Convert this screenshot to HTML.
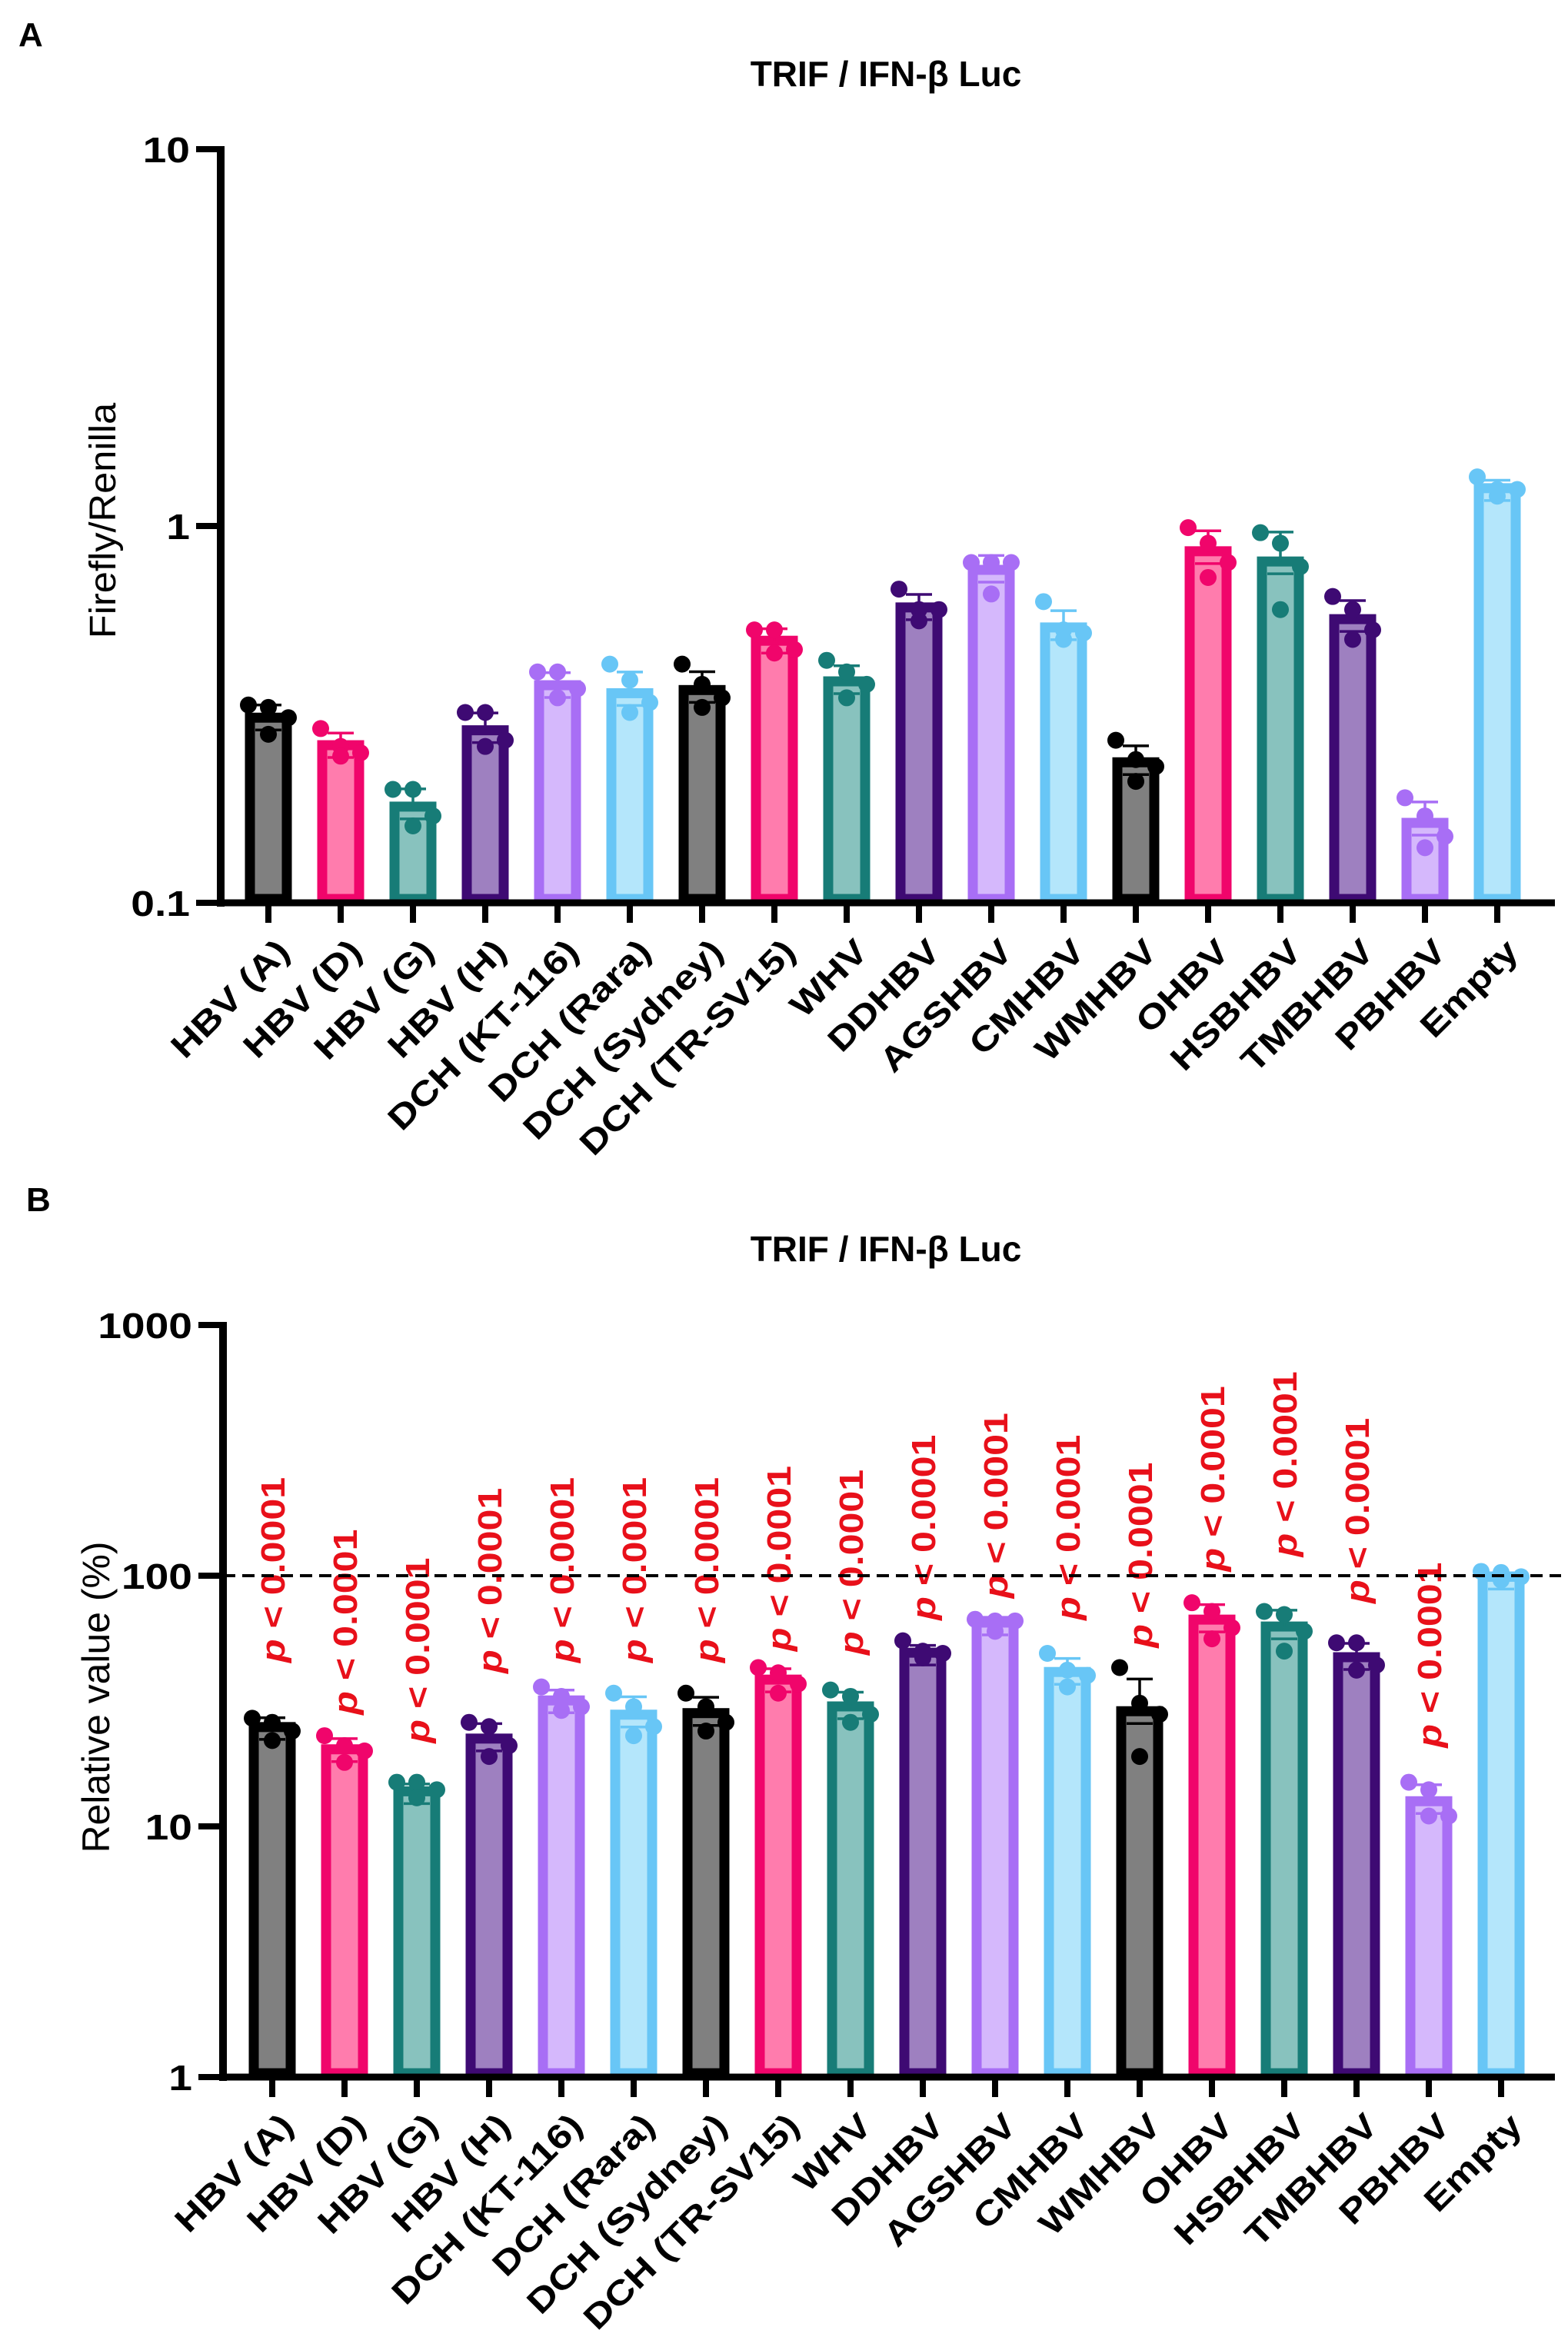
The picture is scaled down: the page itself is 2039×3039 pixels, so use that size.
<!DOCTYPE html>
<html><head><meta charset="utf-8"><style>
html,body{margin:0;padding:0;background:#fff;}
svg{display:block;}
text{font-family:"Liberation Sans",Arial,sans-serif;}
</style></head><body>
<svg id="fig" width="2039" height="3039" viewBox="0 0 2039 3039" xmlns="http://www.w3.org/2000/svg">
<rect width="2039" height="3039" fill="#fff"/>
<text x="24" y="60" font-size="44" font-weight="bold">A</text>
<text x="34" y="1575" font-size="44" font-weight="bold">B</text>
<text x="1152" y="112" font-size="46" font-weight="bold" text-anchor="middle">TRIF / IFN-β Luc</text>
<text x="1152" y="1640" font-size="46" font-weight="bold" text-anchor="middle">TRIF / IFN-β Luc</text>
<text transform="translate(150,677) rotate(-90) scale(1.1,1.05)" font-size="46" text-anchor="middle">Firefly/Renilla</text>
<text transform="translate(142,2207) rotate(-90) scale(1.04,1.05)" font-size="48" text-anchor="middle">Relative value (%)</text>
<g id="gA"></g>
<g id="gB"></g>
</svg>
<script>
const categories = ["HBV (A)","HBV (D)","HBV (G)","HBV (H)","DCH (KT-116)","DCH (Rara)","DCH (Sydney)","DCH (TR-SV15)","WHV","DDHBV","AGSHBV","CMHBV","WMHBV","OHBV","HSBHBV","TMBHBV","PBHBV","Empty"];
const meansA = [0.31,0.262,0.18,0.287,0.378,0.36,0.367,0.496,0.387,0.608,0.765,0.538,0.236,0.857,0.805,0.566,0.163,1.26];
const pointsA = [[0.335,0.33,0.31,0.28],[0.29,0.26,0.25,0.245],[0.2,0.2,0.17,0.16],[0.32,0.32,0.27,0.26],[0.41,0.41,0.37,0.35],[0.43,0.39,0.34,0.32],[0.43,0.38,0.35,0.33],[0.53,0.53,0.47,0.46],[0.44,0.41,0.38,0.35],[0.68,0.6,0.6,0.56],[0.8,0.8,0.8,0.66],[0.63,0.53,0.52,0.5],[0.27,0.24,0.23,0.21],[0.99,0.9,0.8,0.73],[0.96,0.9,0.78,0.6],[0.65,0.6,0.53,0.5],[0.19,0.17,0.15,0.14],[1.35,1.25,1.25,1.2]];
const meansB = [24.9,20.3,13.8,22.4,31.8,27.9,28.3,38.5,30.1,49.3,65,41.3,28.8,66.8,62.7,47.3,12.6,99];
const pointsB = [[27,26,24,22],[23,21,20,18],[15,15,14,13],[26,25,21,19],[36,33,30,29],[34,30,25,23],[34,30,26,24],[43,41,37,34],[35,33,28,26],[55,50,49,47],[67,66,66,60],[49,42,40,36],[43,31,28,19],[78,72,62,56],[72,70,60,50],[54,54,44,42],[15,14,11,11],[104,103,99,96]];
const pLabelBaseB = [45,27.9,21.5,40.8,45,45,45,50,48.3,66.5,81.3,66.5,51.6,104,119,77.6,20.6,null];
const ticksA = [0.1,1,10];
const tickLabelsA = ["0.1","1","10"];
const ticksB = [1,10,100,1000];
const tickLabelsB = ["1","10","100","1000"];
const refLineB = 100;

const strokeC = ["#000000","#f0056b","#177c77","#3e0a73","#a86ef5","#68c6f6"];
const fillC = ["#808080","#ff7cad","#88c2be","#9e80c0","#d5b8fc","#b4e6fb"];
const NS = "http://www.w3.org/2000/svg";
function mk(tag, attrs, parent){const e=document.createElementNS(NS,tag);for(const k in attrs)e.setAttribute(k,attrs[k]);parent.appendChild(e);return e;}

function drawChart(g, cfg){
  const yS = v => cfg.y0 - (Math.log10(v) - Math.log10(cfg.vmin)) * cfg.dec;
  const xS = i => cfg.x0 + i * cfg.step;
  categories.forEach((c,i)=>{
    const cx = xS(i), col = i%6;
    const top = yS(cfg.means[i]);
    const r = mk('rect',{x:cx-24,y:top,width:48,height:cfg.y0-top-5,fill:fillC[col],stroke:strokeC[col],'stroke-width':13},g);
    
    
    const pts = cfg.points[i];
    const m = pts.reduce((a,b)=>a+b,0)/pts.length;
    const sd = Math.sqrt(pts.reduce((a,b)=>a+(b-m)*(b-m),0)/(pts.length-1));
    const eTop = yS(cfg.means[i]+sd);
    const eb = mk('path',{d:`M${cx},${top} V${eTop} M${cx-17},${eTop} H${cx+17} M${cx-17},${top+16} H${cx+17}`,stroke:strokeC[col],'stroke-width':3.5,fill:'none'},g);
    
    
    const offs=[-26,0,26,0];
    pts.forEach((p,k)=>{
      const d = mk('circle',{cx:cx+offs[k],cy:yS(p),r:11,fill:strokeC[col]},g);
      
      
    });
    const t = mk('line',{x1:cx,x2:cx,y1:cfg.y0,y2:cfg.y0+26,stroke:'#000','stroke-width':8},g);
    
    
    const ax = cx+30, ay = cfg.y0+66;
    const lb = mk('text',{'font-size':44,'font-weight':'bold','text-anchor':'end',transform:`translate(${ax},${ay}) rotate(-45) scale(1.18,1)`},g);
    lb.textContent = c;
    
    
    if(cfg.pbase && cfg.pbase[i]!=null){
      const py = yS(cfg.pbase[i]);
      const pt = mk('text',{'font-size':44,'font-weight':'bold',fill:'#e8101a',transform:`translate(${cx+16},${py}) rotate(-90) scale(1.14,1)`},g);
      pt.innerHTML = '<tspan font-style="italic">p</tspan> &lt; 0.0001';
      
      
    }
  });
  if(cfg.ref){
    const rl = mk('line',{x1:cfg.xa,x2:2030,y1:yS(cfg.ref),y2:yS(cfg.ref),stroke:'#000','stroke-width':4,'stroke-dasharray':'16 9'},g);
    
    
  }
  const ya = mk('line',{x1:cfg.xa,x2:cfg.xa,y1:yS(cfg.ticks[cfg.ticks.length-1])-4,y2:cfg.y0+5,stroke:'#000','stroke-width':10},g);
  
  
  const xa = mk('line',{x1:cfg.xa-5,x2:2022,y1:cfg.y0,y2:cfg.y0,stroke:'#000','stroke-width':9},g);
  
  
  cfg.ticks.forEach((v,k)=>{
    const y = yS(v);
    const tk = mk('line',{x1:cfg.xa-32,x2:cfg.xa,y1:y,y2:y,stroke:'#000','stroke-width':8},g);
    
    
    const tl = mk('text',{'font-size':46,'font-weight':'bold','text-anchor':'end',transform:`translate(${cfg.xa-40},${y+17}) scale(1.2,1)`},g);
    tl.textContent = cfg.tickLabels[k];
    
    
  });
}
drawChart(document.getElementById('gA'),{y0:1174,vmin:0.1,dec:490,x0:349,step:94,xa:287,means:meansA,points:pointsA,ticks:ticksA,tickLabels:tickLabelsA});
drawChart(document.getElementById('gB'),{y0:2701,vmin:1,dec:326,x0:354,step:94,xa:290,means:meansB,points:pointsB,ticks:ticksB,tickLabels:tickLabelsB,pbase:pLabelBaseB,ref:refLineB});
</script>
</body></html>
